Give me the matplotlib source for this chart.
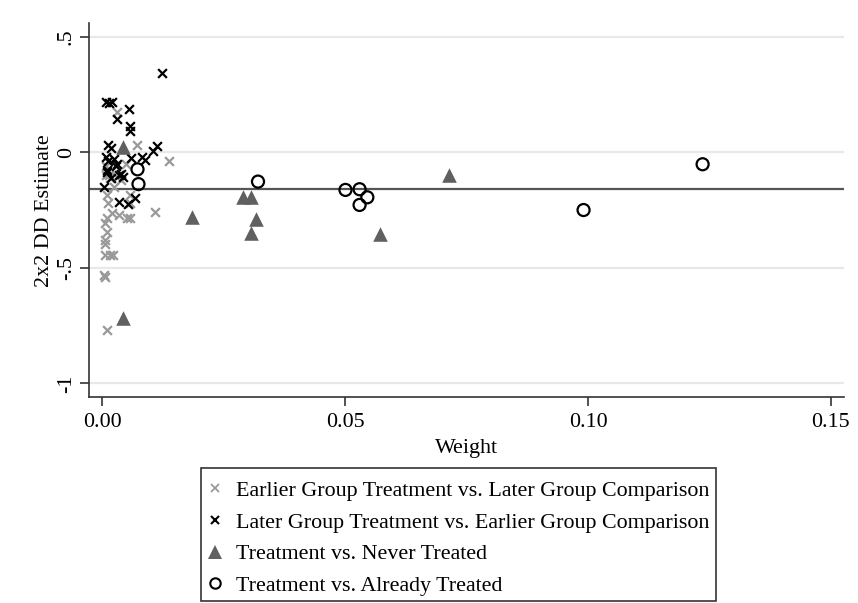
import matplotlib
matplotlib.use("Agg")
import matplotlib.pyplot as plt
from matplotlib.lines import Line2D
from matplotlib.patches import Rectangle

plt.rcParams['font.family'] = ['Liberation Serif', 'DejaVu Serif']

# Earlier Group Treatment vs. Later Group Comparison (gray x)
early_w = [0.0031, 0.0071, 0.0138, 0.0010, 0.0012, 0.0058, 0.0058, 0.0109, 0.0010,
           0.0020, 0.0034, 0.0051, 0.0058, 0.0006, 0.0010, 0.0006, 0.0006, 0.0006,
           0.0016, 0.0022, 0.0006, 0.0005, 0.0010, 0.0008, 0.0015, 0.0025, 0.0040,
           0.0050, 0.0009, 0.0017, 0.0030]
early_e = [0.173, 0.032, -0.038, -0.185, -0.220, -0.185, -0.220, -0.257, -0.285,
           -0.264, -0.270, -0.285, -0.285, -0.307, -0.343, -0.379, -0.395, -0.444,
           -0.446, -0.446, -0.538, -0.530, -0.769, -0.060, -0.100, -0.150, -0.120,
           -0.050, -0.098, -0.112, -0.106]

# Later Group Treatment vs. Earlier Group Comparison (black x)
late_w = [0.0124, 0.0008, 0.0014, 0.0020, 0.0056, 0.0031, 0.0058, 0.0058, 0.0013,
          0.0113, 0.0104, 0.0019, 0.0008, 0.0024, 0.0059, 0.0083, 0.0088, 0.0013,
          0.0030, 0.0010, 0.0039, 0.0044, 0.0018, 0.0005, 0.0034, 0.0054, 0.0068,
          0.0035, 0.0028, 0.0011]
late_e = [0.344, 0.219, 0.212, 0.216, 0.186, 0.143, 0.114, 0.092, 0.032,
          0.027, 0.007, 0.017, -0.019, -0.030, -0.023, -0.019, -0.033, -0.040,
          -0.050, -0.084, -0.094, -0.108, -0.110, -0.149, -0.214, -0.225, -0.199,
          -0.100, -0.060, -0.077]

# Treatment vs. Never Treated (triangles)
never_w = [0.0044, 0.0044, 0.0186, 0.0290, 0.0307, 0.0316, 0.0306, 0.0572, 0.0714]
never_e = [0.022, -0.718, -0.278, -0.195, -0.192, -0.290, -0.348, -0.353, -0.098]

# Treatment vs. Already Treated (circles)
already_w = [0.0073, 0.0075, 0.0321, 0.0501, 0.0530, 0.0546, 0.0530, 0.0991, 0.1236]
already_e = [-0.074, -0.138, -0.127, -0.163, -0.160, -0.195, -0.228, -0.250, -0.052]

overall_dd = -0.158

y_ticks = [0.5, 0, -0.5, -1]
y_tick_labels = ['.5', '0', '-.5', '-1']
x_ticks = [0.0, 0.05, 0.10, 0.15]
x_tick_labels = ['0.00', '0.05', '0.10', '0.15']

labels = ['Earlier Group Treatment vs. Later Group Comparison',
          'Later Group Treatment vs. Earlier Group Comparison',
          'Treatment vs. Never Treated',
          'Treatment vs. Already Treated']

FS = 15.8
W, H = 858, 603

fig = plt.figure(figsize=(W / 100, H / 100), dpi=100)
ax = fig.add_axes([0.1034, 0.3411, 0.8803, 0.6208])

ax.set_xlim(-0.00274, 0.1527)
ax.set_ylim(-1.06, 0.559)

for yt in y_ticks:
    ax.axhline(yt, color='#e8e8e8', lw=1.6, zorder=0)

ax.axhline(overall_dd, color='#555555', lw=1.6, zorder=1)

ax.scatter(early_w, early_e, marker='x', s=40, color='#999999', linewidths=1.6, zorder=2)
ax.scatter(late_w, late_e, marker='x', s=40, color='black', linewidths=1.6, zorder=3)
ax.scatter(never_w, never_e, marker='^', s=110, color='#606060', linewidths=0, zorder=4)
ax.scatter(already_w, already_e, marker='o', s=75, facecolors='none',
           edgecolors='black', linewidths=1.6, zorder=5)

for s in ['top', 'right']:
    ax.spines[s].set_visible(False)
for s in ['left', 'bottom']:
    ax.spines[s].set_linewidth(1.2)
    ax.spines[s].set_color('#333333')

ax.set_yticks(y_ticks)
ax.set_yticklabels(y_tick_labels, rotation=90, va='center')
ax.set_xticks(x_ticks)
ax.set_xticklabels(x_tick_labels)
ax.tick_params(axis='both', direction='out', length=6.3, width=1.2, color='#333333',
               labelsize=FS)
ax.tick_params(axis='y', pad=3)
ax.tick_params(axis='x', pad=5)

ax.set_xlabel('Weight', fontsize=FS, labelpad=5)
ax.set_ylabel('2x2 DD Estimate', fontsize=FS, labelpad=2)

handles = [
    Line2D([], [], ls='none', marker='x', color='#999999', ms=5.5, mew=1.3),
    Line2D([], [], ls='none', marker='x', color='black', ms=5.5, mew=1.5),
    Line2D([], [], ls='none', marker='^', color='#606060', ms=10, mew=0),
    Line2D([], [], ls='none', marker='o', mfc='none', mec='black', ms=7.5, mew=1.5),
]
# legend frame (figure pixel box)
fig.patches.append(Rectangle((201 / W, 1 - 601 / H), (716 - 201) / W, (601 - 468) / H,
                             transform=fig.transFigure, fill=False,
                             edgecolor='#333333', lw=1.2))
leg = fig.legend(handles, labels, loc='upper left', bbox_to_anchor=(207.8 / W, 1 - 480.5 / H),
                 fontsize=FS, frameon=False,
                 handlelength=0.65, handletextpad=0.64, labelspacing=0.52,
                 borderpad=0, borderaxespad=0)

fig.savefig('out.png', dpi=100)
